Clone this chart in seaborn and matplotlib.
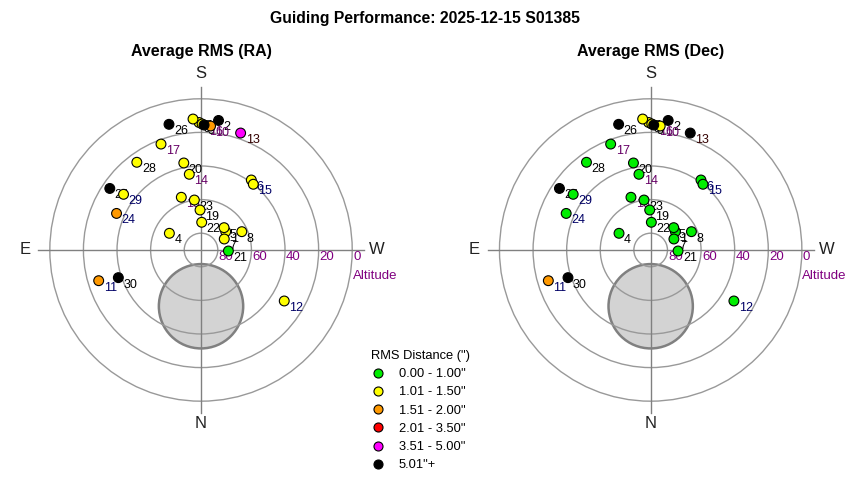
import numpy as np
import pandas as pd
import matplotlib
matplotlib.use("Agg")
import matplotlib.pyplot as plt
from matplotlib.patches import Circle
from matplotlib.lines import Line2D
import seaborn as sns

# Night number, azimuth (deg, N=0 clockwise) and altitude (deg) of each guiding run
nights = list(range(1, 31))
azimuth = [233.5, 187.7, 179.1, 117.8, 225.9, 215.7, 244.7, 245.8, 180.5, 184.4,
           73.3, 301.5, 198.7, 171.2, 218.5, 181.4, 159.3, 159.5, 178.6, 168.8,
           272.1, 181.4, 172.4, 113.4, 124.0, 165.7, 176.5, 143.8, 125.7, 71.5]
altitude = [71.7, 12.2, 14.1, 68.7, 70.9, 38.7, 74.7, 63.4, 15.0, 16.0,
            26.4, 31.9, 16.5, 44.4, 40.0, 15.6, 22.6, 56.5, 66.2, 37.2,
            73.7, 73.5, 60.0, 35.2, 24.5, 12.8, 11.9, 25.3, 33.2, 38.1]

# RMS class per night (index into rms_bins)
ra_class = [1, 5, 1, 1, 1, 1, 1, 1, 1, 2,
            2, 1, 4, 1, 1, 5, 1, 1, 1, 1,
            0, 1, 1, 2, 5, 5, 1, 1, 1, 5]
dec_class = [0, 5, 1, 0, 0, 0, 0, 0, 1, 1,
             2, 0, 5, 0, 0, 5, 0, 0, 0, 0,
             0, 0, 0, 0, 5, 5, 1, 0, 0, 5]

rms_bins = ['0.00 - 1.00"', '1.01 - 1.50"', '1.51 - 2.00"',
            '2.01 - 3.50"', '3.51 - 5.00"', '5.01"+']
bin_colors = ['#00ee00', '#ffff00', '#ff9900', '#ff0000', '#ff00ff', '#000000']

label_colors = ['#000000', '#000000', '#000000', '#000000', '#000000', '#000066',
                '#000000', '#000000', '#000000', '#660066', '#000066', '#000066',
                '#330000', '#660066', '#000066', '#660066', '#660066', '#660066',
                '#000000', '#000000', '#000000', '#000000', '#000000', '#000066',
                '#000000', '#000000', '#000000', '#000000', '#000066', '#000000']

alt_rings = [80, 60, 40, 20, 0]

# obstructed area (pole region) drawn as a grey disk
disk_az, disk_alt, disk_radius = 0.0, 56.5, 25.1

plt.rcParams['font.family'] = ['Liberation Sans', 'DejaVu Sans']


def sky_xy(az, alt):
    """Azimuth/altitude -> flat coordinates, S up, E left."""
    r = 90 - np.asarray(alt, dtype=float)
    a = np.radians(np.asarray(az, dtype=float))
    return -r * np.sin(a), -r * np.cos(a)


x, y = sky_xy(azimuth, altitude)
df = pd.DataFrame({
    "night": nights,
    "x": x,
    "y": y,
    "ra": [rms_bins[i] for i in ra_class],
    "dec": [rms_bins[i] for i in dec_class],
    "lab_color": label_colors,
})
palette = dict(zip(rms_bins, bin_colors))


def draw_sky(ax, col, title):
    ax.set_xlim(-110, 110)
    ax.set_ylim(-110, 110)
    ax.set_aspect("equal")
    ax.axis("off")

    dx, dy = sky_xy(disk_az, disk_alt)
    ax.add_patch(Circle((float(dx), float(dy)), disk_radius, facecolor="#d3d3d3",
                        edgecolor="#808080", lw=1.8, zorder=0.5))
    for a in alt_rings:
        ax.add_patch(Circle((0, 0), 90 - a, fill=False, edgecolor="#999999",
                            lw=1.0, zorder=1))
        ax.text(90 - a + 0.6, -4.2, str(a), color="#800080", fontsize=9.5,
                ha="left", va="center")
    ax.text(90.3, -15.5, "Altitude", color="#800080", fontsize=9.5,
            ha="left", va="center")
    ax.plot([-97, 97], [0, 0], color="#808080", lw=1.0, zorder=1.2)
    ax.plot([0, 0], [-97, 97], color="#808080", lw=1.0, zorder=1.2)

    for lab, (tx, ty) in {"S": (0, 104.8), "N": (0, -103), "E": (-104.8, 0),
                          "W": (104.8, 0)}.items():
        ax.text(tx, ty, lab, fontsize=12, ha="center", va="center", color="#222222")

    for _, row in df.iterrows():
        ax.annotate(str(row["night"]), (row["x"], row["y"]), xytext=(3.6, -5),
                    textcoords="offset points", fontsize=9, ha="left",
                    va="center", color=row["lab_color"], zorder=2.5)

    sns.scatterplot(data=df, x="x", y="y", hue=col, hue_order=rms_bins,
                    palette=palette, s=50, edgecolor="black", linewidth=0.8,
                    legend=False, ax=ax, zorder=3)
    ax.text(0, 117.9, title, fontsize=11.5, fontweight="bold",
            ha="center", va="center")


fig = plt.figure(figsize=(8.5, 4.8), dpi=100)
ax_ra = fig.add_axes([0.0191, 0.0942, 0.4348, 0.77])
ax_dec = fig.add_axes([0.5481, 0.0942, 0.4348, 0.77])
draw_sky(ax_ra, "ra", "Average RMS (RA)")
draw_sky(ax_dec, "dec", "Average RMS (Dec)")

fig.text(0.5, 1 - 18 / 480, "Guiding Performance: 2025-12-15 S01385",
         fontsize=11.3, fontweight="bold", ha="center", va="center")

handles = [Line2D([], [], marker="o", linestyle="", markerfacecolor=c,
                  markeredgecolor="black", markeredgewidth=0.8, markersize=6.5)
           for c in bin_colors]
fig.legend(handles, rms_bins, title='RMS Distance (")', loc="upper left",
           bbox_to_anchor=(0.437, 0.271), frameon=False, fontsize=9.3,
           title_fontsize=9.3, handlelength=1.0, handletextpad=1.1,
           labelspacing=0.48, borderpad=0, borderaxespad=0, alignment="left")

fig.savefig("out.png", dpi=100)
